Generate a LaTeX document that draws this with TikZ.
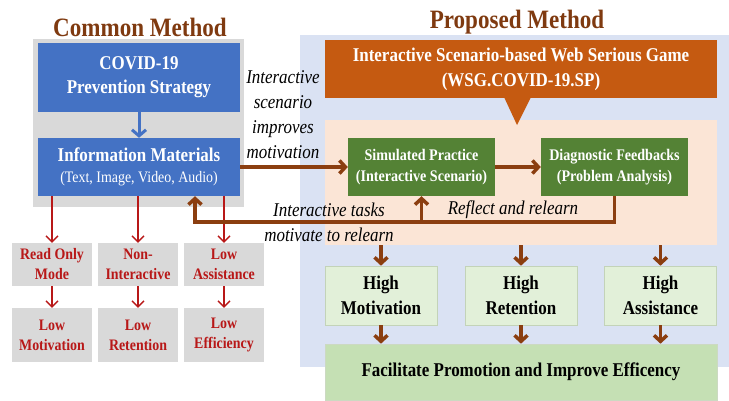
\documentclass[tikz,border=0pt]{standalone}
\usepackage{fontspec}
\setmainfont{Liberation Serif}[FakeStretch=0.87]
\usetikzlibrary{arrows.meta}

\definecolor{titlebrown}{HTML}{7F3A10}
\definecolor{arrowbrown}{HTML}{8B3E10}
\definecolor{boxblue}{HTML}{4472C4}
\definecolor{bgblue}{HTML}{DAE2F3}
\definecolor{bggray}{HTML}{D9D9D9}
\definecolor{gameorange}{HTML}{C55A11}
\definecolor{peach}{HTML}{FBE5D6}
\definecolor{darkgreen}{HTML}{548235}
\definecolor{lightgreen}{HTML}{E2F0D9}
\definecolor{midgreen}{HTML}{C5E0B4}
\definecolor{darkred}{HTML}{B81818}

\tikzset{
  bluebox/.style={fill=boxblue, text=white, align=center, inner sep=0pt,
    minimum width=202, font=\bfseries\fontsize{19.5}{24}\selectfont},
  weakbox/.style={fill=bggray, text=darkred, align=center, inner sep=0pt,
    minimum width=80, font=\bfseries\fontsize{16}{20}\selectfont},
  greenbox/.style={fill=darkgreen, text=white, align=center, inner sep=0pt,
    minimum width=147, minimum height=58, font=\bfseries\fontsize{16.2}{21}\selectfont},
  highbox/.style={fill=lightgreen, draw=darkgreen!35, line width=0.6pt, align=center,
    inner sep=0pt, minimum width=112, minimum height=59, font=\bfseries\fontsize{19.5}{25}\selectfont},
  heading/.style={text=titlebrown, font=\bfseries\fontsize{26.5}{30}\selectfont},
  note/.style={align=center, font=\itshape\fontsize{19.5}{25}\selectfont},
  redarrow/.style={draw=darkred, line width=1.4pt, -{Straight Barb[length=6pt,width=12pt]}},
  brownarrow/.style={draw=arrowbrown, line width=3.5pt, -{Straight Barb[length=6pt,width=13pt]}},
  bluearrow/.style={draw=boxblue, line width=3pt, -{Straight Barb[length=6pt,width=14pt]}},
}

\begin{document}
\begin{tikzpicture}[x=1pt, y=-1pt]
    \useasboundingbox (0,0) rectangle (729,400);

    % backgrounds
    \fill[bggray] (33,39) rectangle (244,207);
    \fill[bgblue] (300,35) rectangle (729,367);
    \node[fill=peach, minimum width=392, minimum height=125, inner sep=0pt] (peach) at (521,182.5) {};

    % titles
    \node[heading] (commontitle) at (140,27) {Common Method};
    \node[heading] (proposedtitle) at (517,22) {Proposed Method};

    % common method
    \node[bluebox, minimum height=69] (covid) at (139,77.5) {COVID-19\\Prevention Strategy};
    \node[bluebox, minimum height=58] (info) at (139,167)
        {Information Materials\\[-3pt]{\mdseries\fontsize{16}{18}\selectfont(Text, Image, Video, Audio)}};
    \node[weakbox, minimum height=43] (readonly) at (52,264.5) {Read Only\\Mode};
    \node[weakbox, minimum height=43] (noninter) at (138,264.5) {Non-\\Interactive};
    \node[weakbox, minimum height=43] (lowassist) at (224,264.5) {Low\\Assistance};
    \node[weakbox, minimum height=54] (lowmot) at (52,335) {Low\\Motivation};
    \node[weakbox, minimum height=54] (lowret) at (138,335) {Low\\Retention};
    \node[weakbox, minimum height=54] (loweff) at (224,335) {Low\\Efficiency};

    % proposed method
    \node[fill=gameorange, text=white, align=center, inner sep=0pt, minimum width=392, minimum height=58,
        font=\bfseries\fontsize{19.5}{25}\selectfont] (game) at (521,69)
        {Interactive Scenario-based Web Serious Game\\(WSG.COVID-19.SP)};
    \fill[gameorange] (504,97) -- (531,97) -- (517,125) -- cycle;
    \node[greenbox] (sim) at (421.5,167) {Simulated Practice\\(Interactive Scenario)};
    \node[greenbox] (diag) at (614.5,167) {Diagnostic Feedbacks\\(Problem Analysis)};
    \node[highbox] (highmot) at (381,295.5) {High\\Motivation};
    \node[highbox] (highret) at (521,295.5) {High\\Retention};
    \node[highbox] (highassist) at (660.5,295.5) {High\\Assistance};
    \node[fill=midgreen, draw=darkgreen!30, line width=0.6pt, inner sep=0pt, minimum width=392, minimum height=56,
        font=\bfseries\fontsize{19.5}{22}\selectfont] (final) at (521,372)
        {Facilitate Promotion and Improve Efficency};

    % labels
    \node[note] (improves) at (283,115) {Interactive\\scenario\\improves\\motivation};
    \node[note] (tasks) at (329,222) {Interactive tasks\\motivate to relearn};
    \node[note] (reflect) at (513,210) {Reflect and relearn};

    % arrows
    \draw[bluearrow] (covid) -- (info);
    \foreach \a/\b in {readonly/lowmot, noninter/lowret, lowassist/loweff} {
        \draw[redarrow] (info.south -| \a.north) -- (\a.north);
        \draw[redarrow] (\a) -- (\b);
    }
    \draw[brownarrow] (info) -- (sim);
    \draw[brownarrow] (sim) -- (diag);
    \coordinate (back) at (195,222);
    \draw[brownarrow] (diag.south) |- (back) -- (back |- info.south);
    \draw[brownarrow] (sim.south |- back) -- (sim.south);
    \foreach \h in {highmot, highret, highassist} {
        \draw[brownarrow] (peach.south -| \h.north) -- (\h.north);
        \draw[brownarrow] (\h.south) -- (\h.south |- final.north);
    }
\end{tikzpicture}
\end{document}
